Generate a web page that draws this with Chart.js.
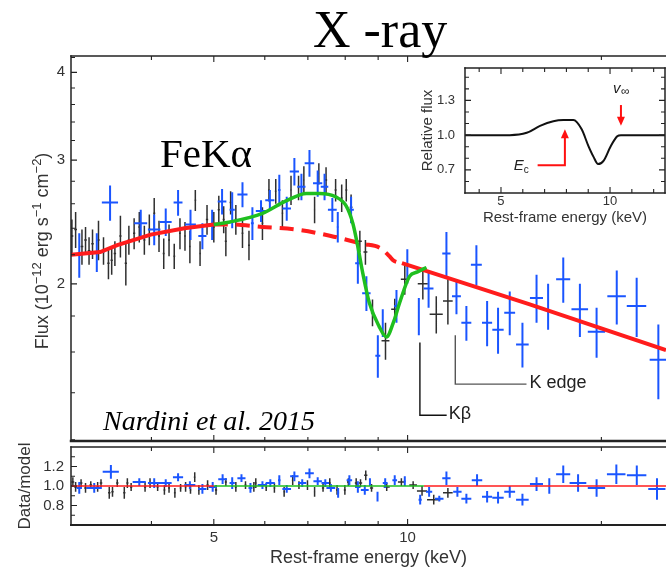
<!DOCTYPE html>
<html>
<head>
<meta charset="utf-8">
<script src="https://cdn.jsdelivr.net/npm/chart.js@4.4.0/dist/chart.umd.min.js"></script>
<style>
  html, body { margin: 0; padding: 0; background: #fff; }
  #wrap { position: relative; width: 666px; height: 574px; overflow: hidden; background: #fff; }
  canvas { position: absolute; }
  #main { left: 0px; top: 0px; }
  #resid { left: 0px; top: 435px; }
  #inset { left: 405px; top: 60px; }
</style>
</head>
<body>
<div id="wrap">
  <canvas id="main" width="666" height="445"></canvas>
  <canvas id="resid" width="666" height="139"></canvas>
  <canvas id="inset" width="261" height="175"></canvas>
</div>
<script>
// axis ticks
const xTicks = [3, 4, 5, 6, 7, 8, 9, 10, 20];
const xLabels = [5, 10];
const fluxTicks = [1.2, 1.4, 1.6, 1.8, 2, 2.2, 2.4, 2.6, 2.8, 3, 3.2, 3.4, 3.6, 3.8, 4, 4.2];
const fluxLabels = [2, 3, 4];
const ratioTicks = [0.6, 0.7, 0.8, 0.9, 1.0, 1.1, 1.2, 1.3, 1.4];
const ratioLabels = [0.8, 1.0, 1.2];
const insetXTicks = [4, 5, 6, 7, 8, 9, 10, 11, 12];
const insetXLabels = [5, 10];
const insetYTicks = [0.5, 0.6, 0.7, 0.8, 0.9, 1.0, 1.1, 1.2, 1.3, 1.4, 1.5];
const insetYLabels = [0.7, 1.0, 1.3];

// black spectrum (keV, flux, half-widths)
const blackE = [3.01,3.05,3.12,3.16,3.20,3.24,3.31,3.37,3.43,3.47,3.51,3.58,3.65,3.69,3.76,3.83,3.90,3.97,4.04,4.11,4.18,4.26,4.34,4.43,4.51,4.59,4.68,4.76,4.88,5.00,5.09,5.18,5.22,5.31,5.41,5.54,5.67,5.95,6.09,6.24,6.39,6.59,6.77,6.90,7.17,7.28,7.47,7.73,7.90,8.03,8.17,8.43,8.60,8.82,9.24,9.55,9.90,10.56,11.08,11.55];
const blackF = [2.34,2.39,2.26,2.31,2.23,2.28,2.31,2.23,2.14,2.16,2.21,2.34,2.14,2.31,2.36,2.41,2.31,2.39,2.52,2.34,2.21,2.31,2.19,2.36,2.34,2.26,2.63,2.21,2.47,2.41,2.55,2.47,2.30,2.61,2.47,2.36,2.27,2.44,2.72,2.71,2.52,2.72,2.74,2.81,2.55,2.87,2.81,2.72,2.65,2.72,2.57,2.30,2.22,1.82,1.66,1.84,2.03,2.00,1.81,1.89];
const blackDE = [0.015,0.015,0.015,0.015,0.015,0.015,0.015,0.015,0.015,0.015,0.015,0.015,0.015,0.015,0.015,0.015,0.015,0.015,0.015,0.015,0.015,0.015,0.015,0.015,0.015,0.015,0.015,0.015,0.02,0.02,0.02,0.02,0.02,0.02,0.02,0.02,0.02,0.02,0.02,0.02,0.02,0.02,0.02,0.02,0.02,0.02,0.03,0.03,0.03,0.03,0.04,0.06,0.06,0.05,0.13,0.12,0.14,0.19,0.26,0.20];
const blackDF = [0.13,0.14,0.13,0.10,0.10,0.11,0.15,0.10,0.11,0.10,0.09,0.16,0.15,0.11,0.12,0.12,0.11,0.12,0.13,0.12,0.11,0.12,0.09,0.12,0.11,0.12,0.09,0.09,0.12,0.12,0.12,0.11,0.11,0.10,0.12,0.11,0.11,0.13,0.10,0.11,0.11,0.13,0.11,0.13,0.11,0.10,0.12,0.10,0.12,0.10,0.11,0.08,0.09,0.08,0.10,0.065,0.10,0.10,0.11,0.14];

// blue spectrum
const blueE = [3.09,3.29,3.45,3.85,4.04,4.21,4.40,4.60,4.80,4.97,5.15,5.34,5.54,5.74,5.92,6.11,6.32,6.49,6.67,6.84,7.04,7.25,7.43,7.64,7.79,8.17,8.37,8.63,8.99,9.15,9.61,9.99,10.41,10.78,11.49,11.91,12.34,12.79,13.29,13.82,14.41,15.08,15.86,16.53,17.45,18.52,19.66,21.13,22.69,24.52];
const blueF = [2.20,2.22,2.61,2.44,2.39,2.45,2.61,2.43,2.34,2.43,2.62,2.55,2.68,2.44,2.54,2.63,2.72,2.56,2.89,2.75,2.97,2.78,2.75,2.55,2.41,2.55,2.14,1.94,1.58,1.76,1.86,2.12,1.80,1.97,2.21,1.92,1.76,2.13,1.76,1.72,1.82,1.64,1.91,1.86,2.03,1.84,1.71,1.92,1.86,1.56];
const blueDE = [0.03,0.09,0.10,0.09,0.09,0.09,0.07,0.09,0.07,0.07,0.08,0.05,0.10,0.03,0.11,0.10,0.03,0.10,0.11,0.10,0.12,0.12,0.10,0.12,0.03,0.08,0.08,0.13,0.08,0.03,0.08,0.03,0.03,0.19,0.17,0.19,0.22,0.25,0.24,0.28,0.28,0.34,0.37,0.05,0.44,0.55,0.61,0.70,0.79,0.75];
const blueDF = [0.16,0.14,0.15,0.11,0.12,0.11,0.11,0.12,0.10,0.12,0.11,0.15,0.11,0.13,0.09,0.09,0.14,0.10,0.13,0.12,0.13,0.12,0.12,0.10,0.12,0.11,0.14,0.11,0.11,0.08,0.10,0.12,0.11,0.12,0.16,0.11,0.10,0.14,0.13,0.13,0.13,0.12,0.15,0.14,0.15,0.16,0.14,0.17,0.18,0.19];

// models
const contE = [3.0, 3.33, 3.54, 3.99, 4.50, 5.0, 5.28, 5.95, 6.72, 7.6, 8.52, 9.06, 9.37, 9.5, 9.8, 15.48, 25.2];
const contF = [2.20, 2.22, 2.27, 2.35, 2.40, 2.43, 2.43, 2.41, 2.39, 2.34, 2.28, 2.25, 2.19, 2.16, 2.14, 1.87, 1.61];
const windE = [5.0, 5.3, 5.95, 6.45, 6.97, 7.3, 7.73, 8.03, 8.22, 8.37, 8.52, 8.72, 9.03, 9.27, 9.52, 9.72, 10.07, 10.36, 10.7];
const windF = [2.43, 2.45, 2.52, 2.62, 2.69, 2.69, 2.66, 2.58, 2.44, 2.26, 2.07, 1.88, 1.74, 1.68, 1.77, 1.88, 2.05, 2.08, 2.11];

// residuals (data/model)
const resBlackE = [3.02,3.05,3.11,3.16,3.22,3.30,3.34,3.44,3.48,3.54,3.63,3.67,3.72,3.91,3.98,4.09,4.19,4.26,4.35,4.44,4.52,4.60,4.67,4.74,4.89,5.04,5.22,5.41,5.60,5.77,5.81,6.03,6.21,6.43,6.63,6.78,6.99,7.17,7.39,7.57,7.77,7.99,8.09,8.32,8.45,8.61,8.79,9.28,9.78,10.2,10.53,10.98,11.55];
const resBlackR = [1.04,0.99,1.03,0.98,1.01,0.99,1.03,0.93,0.94,1.03,0.93,1.03,0.99,0.99,1.03,0.99,0.96,0.98,0.93,0.98,0.99,0.96,1.09,0.96,1.01,0.96,1.04,0.99,1.01,0.99,1.03,0.99,0.98,0.94,1.06,1.01,1.01,0.94,0.98,1.03,0.96,0.96,1.04,1.03,1.03,1.11,0.98,0.99,1.04,1.01,0.95,0.86,0.93];
const resBlackDE = [0.015,0.015,0.015,0.015,0.015,0.015,0.015,0.015,0.015,0.015,0.015,0.015,0.015,0.015,0.015,0.015,0.015,0.015,0.015,0.015,0.015,0.015,0.015,0.015,0.02,0.02,0.02,0.02,0.02,0.02,0.02,0.02,0.02,0.02,0.02,0.02,0.02,0.02,0.03,0.03,0.03,0.03,0.04,0.04,0.05,0.05,0.05,0.10,0.12,0.14,0.19,0.26,0.20];
const resBlackDR = [0.05,0.05,0.04,0.05,0.04,0.05,0.04,0.06,0.05,0.04,0.06,0.05,0.04,0.05,0.05,0.04,0.05,0.05,0.05,0.04,0.05,0.04,0.05,0.05,0.05,0.05,0.04,0.05,0.04,0.05,0.05,0.04,0.05,0.05,0.05,0.04,0.05,0.05,0.04,0.05,0.05,0.05,0.04,0.05,0.04,0.05,0.04,0.04,0.04,0.04,0.05,0.05,0.05];
const resBlueE = [3.09,3.26,3.46,3.83,4.04,4.21,4.40,4.59,4.80,4.98,5.16,5.34,5.52,5.70,5.95,6.12,6.32,6.49,6.67,6.86,7.04,7.25,7.45,7.60,7.80,8.12,8.37,8.58,8.74,8.98,9.23,9.55,9.90,10.46,10.80,11.20,11.49,11.95,12.34,12.82,13.29,13.82,14.41,15.08,15.86,16.60,17.45,18.40,19.66,21.10,22.70,24.40];
const resBlueR = [0.98,0.98,1.145,1.04,1.03,1.03,1.09,1.01,0.97,0.99,1.07,1.03,1.08,0.98,1.01,1.03,1.06,0.97,1.10,1.03,1.13,1.05,1.03,0.98,0.93,1.06,0.99,0.96,1.04,0.89,1.03,1.06,1.05,0.86,0.94,0.87,1.08,0.94,0.87,1.06,0.89,0.88,0.94,0.86,1.02,1.00,1.12,1.03,0.98,1.12,1.11,0.97];
const resBlueDE = [0.03,0.09,0.10,0.09,0.09,0.09,0.08,0.09,0.07,0.07,0.08,0.05,0.08,0.04,0.10,0.10,0.03,0.10,0.10,0.10,0.11,0.11,0.10,0.12,0.03,0.08,0.08,0.12,0.03,0.03,0.08,0.08,0.04,0.06,0.12,0.17,0.17,0.18,0.22,0.24,0.24,0.28,0.28,0.34,0.37,0.05,0.44,0.55,0.61,0.70,0.79,0.75];
const resBlueDR = [0.06,0.05,0.07,0.04,0.05,0.04,0.04,0.04,0.05,0.05,0.05,0.06,0.04,0.05,0.04,0.04,0.05,0.04,0.05,0.04,0.05,0.04,0.04,0.04,0.05,0.05,0.06,0.05,0.04,0.05,0.05,0.05,0.05,0.05,0.05,0.03,0.07,0.05,0.05,0.06,0.06,0.06,0.06,0.06,0.07,0.08,0.09,0.09,0.09,0.10,0.10,0.11];

// inset: relative flux profile
const insetE = [3.35, 5.4, 6.18, 6.79, 7.4, 7.86, 8.32, 8.7, 9.0, 9.25, 9.45, 9.71, 10.02, 10.33, 10.5, 12.52];
const insetR = [1.0, 1.0, 1.02, 1.08, 1.12, 1.13, 1.13, 1.05, 0.91, 0.81, 0.75, 0.78, 0.90, 0.99, 1.0, 1.0];

const SANS = '"Liberation Sans", Arial, sans-serif';
const SERIF = '"Liberation Serif", "Times New Roman", serif';
const RED = '#ff1c1c', GREEN = '#1fbf1f', BLUE = '#1a55ff', BLACK = 'rgba(10,10,10,0.85)';
Chart.defaults.font.family = SANS;

// every cross = horizontal bar + vertical bar, separated by gaps
function crosses(E, V, dE, dV) {
  const pts = [];
  E.forEach((e, i) => {
    pts.push({x: e - dE[i], y: V[i]}, {x: e + dE[i], y: V[i]}, {x: e, y: null});
    pts.push({x: e, y: V[i] - dV[i]}, {x: e, y: V[i] + dV[i]}, {x: e, y: null});
  });
  return pts;
}
function pairs(E, V, lo, hi) {
  return E.map((e, i) => ({x: e, y: V[i]})).filter(p => p.x >= lo && p.x <= hi);
}
// fixed axis size, no extra room for edge labels
function fixSize(w, h) {
  return s => {
    if (w) s.width = w;
    if (h) s.height = h;
    s.paddingTop = 0; s.paddingBottom = 0; s.paddingLeft = 0; s.paddingRight = 0;
  };
}

function makeFrame(cfg) {
  return {
    id: 'frame',
    beforeDraw(chart) {
      if (!cfg.fill) return;
      const a = chart.chartArea, ctx = chart.ctx;
      ctx.save();
      ctx.fillStyle = cfg.fill;
      ctx.fillRect(a.left, a.top, a.right - a.left, a.bottom - a.top);
      ctx.restore();
    },
    afterDraw(chart) {
      const {ctx, chartArea: a, scales} = chart;
      ctx.save();
      ctx.strokeStyle = '#222';
      ctx.lineWidth = 1.1;
      ctx.beginPath();
      cfg.xTicks.forEach(v => {
        const p = scales.x.getPixelForValue(v);
        if (p <= a.left + 1 || p >= a.right - 1) return;
        const len = cfg.xMajor.includes(v) ? 6 : 4;
        if (cfg.tickTop) { ctx.moveTo(p, a.top); ctx.lineTo(p, a.top + len); }
        if (cfg.tickBottom) { ctx.moveTo(p, a.bottom); ctx.lineTo(p, a.bottom - len); }
      });
      cfg.yTicks.forEach(v => {
        const p = scales.y.getPixelForValue(v);
        if (p <= a.top + 1 || p >= a.bottom - 1) return;
        const len = cfg.yMajor.includes(v) ? 6 : 4;
        if (cfg.tickLeft) { ctx.moveTo(a.left, p); ctx.lineTo(a.left + len, p); }
        if (cfg.tickRight) { ctx.moveTo(a.right, p); ctx.lineTo(a.right - len, p); }
      });
      ctx.stroke();
      ctx.lineCap = 'square';
      const side = (w, x1, y1, x2, y2) => {
        ctx.lineWidth = w;
        ctx.beginPath(); ctx.moveTo(x1, y1); ctx.lineTo(x2, y2); ctx.stroke();
      };
      if (cfg.top) side(cfg.top, a.left, a.top, a.right, a.top);
      if (cfg.bottom) side(cfg.bottom, a.left, a.bottom, a.right, a.bottom);
      if (cfg.left) side(cfg.left, a.left, a.top, a.left, a.bottom);
      if (cfg.right) side(cfg.right, a.right, a.top, a.right, a.bottom);
      ctx.restore();
    }
  };
}

function tickFont(size) { return {family: SANS, size: size}; }

// ---------- main panel ----------
const mainText = {
  id: 'mainText',
  afterDraw(chart) {
    const {ctx, scales: {x, y}} = chart;
    ctx.save();
    ctx.fillStyle = '#000';
    ctx.textBaseline = 'alphabetic';
    ctx.font = '52px ' + SERIF;
    ctx.fillText('X -ray', 313, 47);
    ctx.font = '41px ' + SERIF;
    ctx.fillText('FeKα', 160, 167);
    ctx.font = 'italic 28px ' + SERIF;
    ctx.fillText('Nardini et al. 2015', 103, 430);

    // y axis title with superscripts
    const parts = [['Flux (10', 0], ['−12', 1], [' erg s', 0], ['−1', 1], [' cm', 0], ['−2', 1], [')', 0]];
    const size = 18, sup = 13;
    ctx.fillStyle = '#333';
    ctx.translate(48, 251);
    ctx.rotate(-Math.PI / 2);
    let total = 0;
    parts.forEach(p => { ctx.font = (p[1] ? sup : size) + 'px ' + SANS; total += ctx.measureText(p[0]).width; });
    let cx = -total / 2;
    parts.forEach(p => {
      ctx.font = (p[1] ? sup : size) + 'px ' + SANS;
      ctx.fillText(p[0], cx, p[1] ? -7 : 0);
      cx += ctx.measureText(p[0]).width;
    });
    ctx.restore();

    // K-beta and K-edge markers
    ctx.save();
    ctx.lineWidth = 1.4;
    ctx.font = '18px ' + SANS;
    ctx.textBaseline = 'middle';
    ctx.strokeStyle = '#111';
    ctx.beginPath();
    ctx.moveTo(x.getPixelForValue(10.45), y.getPixelForValue(1.65));
    ctx.lineTo(x.getPixelForValue(10.45), y.getPixelForValue(1.30));
    ctx.lineTo(x.getPixelForValue(11.5), y.getPixelForValue(1.30));
    ctx.stroke();
    ctx.fillStyle = '#222';
    ctx.fillText('Kβ', x.getPixelForValue(11.5) + 2, y.getPixelForValue(1.30) - 1);
    ctx.strokeStyle = '#555';
    ctx.beginPath();
    ctx.moveTo(x.getPixelForValue(11.86), y.getPixelForValue(1.69));
    ctx.lineTo(x.getPixelForValue(11.86), y.getPixelForValue(1.44));
    ctx.lineTo(x.getPixelForValue(15.3), y.getPixelForValue(1.44));
    ctx.stroke();
    ctx.fillText('K edge', x.getPixelForValue(15.3) + 3, y.getPixelForValue(1.44) - 1);
    ctx.restore();
  }
};

new Chart(document.getElementById('main'), {
  type: 'line',
  data: {
    datasets: [
      {data: pairs(windE, windF, 0, 99), borderColor: GREEN, borderWidth: 3.5, cubicInterpolationMode: 'monotone'},
      {data: pairs(contE, contF, 0, 5.0), borderColor: RED, borderWidth: 4},
      {data: pairs(contE, contF, 5.0, 9.8), borderColor: RED, borderWidth: 4, borderDash: [14, 8], cubicInterpolationMode: 'monotone'},
      {data: pairs(contE, contF, 9.8, 99), borderColor: RED, borderWidth: 4},
      {data: crosses(blueE, blueF, blueDE, blueDF), borderColor: BLUE, borderWidth: 2},
      {data: crosses(blackE, blackF, blackDE, blackDF), borderColor: BLACK, borderWidth: 1.5}
    ]
  },
  options: {
    responsive: false, animation: false, events: [],
    layout: {padding: {top: 56, bottom: 4, left: 0, right: 0}},
    elements: {point: {radius: 0}, line: {tension: 0}},
    datasets: {line: {spanGaps: false}},
    plugins: {legend: {display: false}, tooltip: {enabled: false}},
    scales: {
      x: {type: 'logarithmic', min: 3, max: 25.2, display: false, afterFit: fixSize(0, 0)},
      y: {
        type: 'logarithmic', min: 1.195, max: 4.22,
        afterFit: fixSize(71, 0),
        afterBuildTicks: s => { s.ticks = fluxTicks.map(v => ({value: v})); },
        grid: {display: false, drawTicks: false}, border: {display: false},
        ticks: {autoSkip: false, padding: 6, color: '#333', font: tickFont(15),
                callback: v => fluxLabels.includes(v) ? String(v) : ''}
      }
    }
  },
  plugins: [makeFrame({xTicks: xTicks, xMajor: xLabels, yTicks: fluxTicks, yMajor: fluxLabels,
                       tickTop: true, tickBottom: true, tickLeft: true,
                       top: 1.5, bottom: 2.5, left: 1.5}), mainText]
});

// ---------- residual panel ----------
new Chart(document.getElementById('resid'), {
  type: 'line',
  data: {
    datasets: [
      {data: [{x: 3, y: 1}, {x: 5.0, y: 1}], borderColor: RED, borderWidth: 1.5},
      {data: [{x: 5.0, y: 1}, {x: 10.6, y: 1}], borderColor: GREEN, borderWidth: 1.5},
      {data: [{x: 10.6, y: 1}, {x: 25.2, y: 1}], borderColor: RED, borderWidth: 1.5},
      {data: crosses(resBlueE, resBlueR, resBlueDE, resBlueDR), borderColor: BLUE, borderWidth: 2},
      {data: crosses(resBlackE, resBlackR, resBlackDE, resBlackDR), borderColor: BLACK, borderWidth: 1.5}
    ]
  },
  options: {
    responsive: false, animation: false, events: [],
    layout: {padding: {top: 12, bottom: 0, left: 0, right: 0}},
    elements: {point: {radius: 0}, line: {tension: 0}},
    datasets: {line: {spanGaps: false}},
    plugins: {legend: {display: false}, tooltip: {enabled: false}},
    scales: {
      x: {
        type: 'logarithmic', min: 3, max: 25.2,
        afterFit: fixSize(0, 49),
        afterBuildTicks: s => { s.ticks = xTicks.map(v => ({value: v})); },
        grid: {display: false, drawTicks: false}, border: {display: false},
        ticks: {autoSkip: false, maxRotation: 0, padding: 4, color: '#333', font: tickFont(15),
                callback: v => xLabels.includes(v) ? String(v) : ''},
        title: {display: true, text: 'Rest-frame energy (keV)', color: '#333', font: {family: SANS, size: 18}, padding: {top: 0, bottom: 5}}
      },
      y: {
        type: 'linear', min: 0.6, max: 1.4,
        afterFit: fixSize(71, 0),
        afterBuildTicks: s => { s.ticks = ratioTicks.map(v => ({value: v})); },
        grid: {display: false, drawTicks: false}, border: {display: false},
        ticks: {autoSkip: false, padding: 7, color: '#333', font: tickFont(15),
                callback: v => ratioLabels.some(l => Math.abs(l - v) < 1e-6) ? v.toFixed(1) : ''},
        title: {display: true, text: 'Data/model', color: '#333', font: {family: SANS, size: 17}, padding: {top: 15, bottom: 0}}
      }
    }
  },
  plugins: [makeFrame({xTicks: xTicks, xMajor: xLabels, yTicks: ratioTicks, yMajor: ratioLabels,
                       tickTop: true, tickBottom: true, tickLeft: true,
                       top: 1.5, bottom: 2, left: 1.5})]
});

// ---------- inset ----------
const insetMarks = {
  id: 'insetMarks',
  afterDatasetsDraw(chart) {
    const {ctx, scales: {x, y}} = chart;
    const head = (px, py, dir) => {
      ctx.beginPath();
      ctx.moveTo(px, py);
      ctx.lineTo(px - 4, py - dir * 9);
      ctx.lineTo(px + 4, py - dir * 9);
      ctx.closePath();
      ctx.fill();
    };
    ctx.save();
    ctx.strokeStyle = '#ff1010';
    ctx.fillStyle = '#ff1010';
    ctx.lineWidth = 2;
    // E_c arrow
    const ex = x.getPixelForValue(7.93), ey0 = y.getPixelForValue(0.74), ey1 = y.getPixelForValue(1.05);
    ctx.beginPath();
    ctx.moveTo(x.getPixelForValue(6.68), ey0);
    ctx.lineTo(ex, ey0);
    ctx.lineTo(ex, ey1 + 8);
    ctx.stroke();
    head(ex, ey1, -1);
    // v_inf arrow
    const vx = x.getPixelForValue(10.5), vy0 = y.getPixelForValue(1.26), vy1 = y.getPixelForValue(1.08);
    ctx.beginPath();
    ctx.moveTo(vx, vy0);
    ctx.lineTo(vx, vy1 - 8);
    ctx.stroke();
    head(vx, vy1, 1);
    // labels
    ctx.fillStyle = '#222';
    ctx.textBaseline = 'alphabetic';
    ctx.font = 'italic 15px ' + SANS;
    const lx = x.getPixelForValue(6.68) - 24;
    ctx.fillText('E', lx, ey0 + 5);
    ctx.font = '10px ' + SANS;
    ctx.fillText('c', lx + 10, ey0 + 8);
    ctx.font = 'italic 15px ' + SANS;
    ctx.fillText('v', vx - 8, vy0 - 12);
    ctx.font = '12px ' + SANS;
    ctx.fillText('∞', vx, vy0 - 10);
    ctx.restore();
  }
};

new Chart(document.getElementById('inset'), {
  type: 'line',
  data: {
    datasets: [
      {data: insetE.map((e, i) => ({x: e, y: insetR[i]})), borderColor: '#111', borderWidth: 2, cubicInterpolationMode: 'monotone'}
    ]
  },
  options: {
    responsive: false, animation: false, events: [],
    layout: {padding: {top: 8, bottom: 0, left: 0, right: 1}},
    elements: {point: {radius: 0}},
    plugins: {legend: {display: false}, tooltip: {enabled: false}},
    scales: {
      x: {
        type: 'linear', min: 3.35, max: 12.52,
        afterFit: fixSize(0, 42),
        afterBuildTicks: s => { s.ticks = insetXTicks.map(v => ({value: v})); },
        grid: {display: false, drawTicks: false}, border: {display: false},
        ticks: {autoSkip: false, maxRotation: 0, padding: 1, color: '#333', font: tickFont(13),
                callback: v => insetXLabels.includes(v) ? String(v) : ''},
        title: {display: true, text: 'Rest-frame energy (keV)', color: '#333', font: {family: SANS, size: 15}, padding: {top: 0, bottom: 8}}
      },
      y: {
        type: 'linear', min: 0.5, max: 1.58,
        afterFit: fixSize(60, 0),
        afterBuildTicks: s => { s.ticks = insetYTicks.map(v => ({value: v})); },
        grid: {display: false, drawTicks: false}, border: {display: false},
        ticks: {autoSkip: false, padding: 10, color: '#333', font: tickFont(13),
                callback: v => insetYLabels.some(l => Math.abs(l - v) < 1e-6) ? v.toFixed(1) : ''},
        title: {display: true, text: 'Relative flux', color: '#333', font: {family: SANS, size: 15}, padding: {top: 14, bottom: 0}}
      }
    }
  },
  plugins: [makeFrame({fill: '#fff', xTicks: insetXTicks, xMajor: insetXLabels, yTicks: insetYTicks, yMajor: insetYLabels,
                       tickTop: true, tickBottom: true, tickLeft: true, tickRight: true,
                       top: 1.5, bottom: 1.5, left: 1.5, right: 1.5}), insetMarks]
});
</script>
</body>
</html>
